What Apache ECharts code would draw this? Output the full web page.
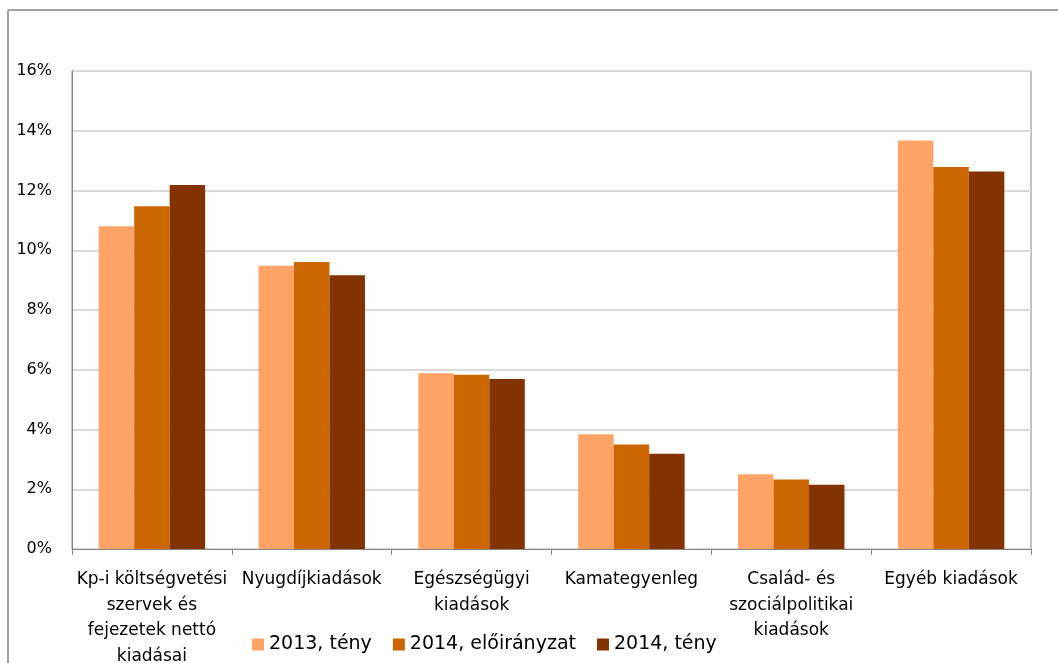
<!DOCTYPE html>
<html>
<head>
<meta charset="utf-8">
<script src="https://cdn.jsdelivr.net/npm/echarts@6/dist/echarts.min.js"></script>
<style>
  html, body { margin: 0; padding: 0; background: #ffffff; }
  #chart { width: 1058px; height: 663px; }
</style>
</head>
<body>
<div id="chart"></div>
<script>
// Kiadási főcsoportok, a GDP százalékában
const categories = [
  'Kp-i költségvetési\nszervek és\nfejezetek nettó\nkiadásai',
  'Nyugdíjkiadások',
  'Egészségügyi\nkiadások',
  'Kamategyenleg',
  'Család- és\nszociálpolitikai\nkiadások',
  'Egyéb kiadások'
];
const seriesNames = ['2013, tény', '2014, előirányzat', '2014, tény'];
const teny2013 = [10.80, 9.48, 5.88, 3.84, 2.50, 13.67];
const eloiranyzat2014 = [11.47, 9.61, 5.83, 3.50, 2.33, 12.79];
const teny2014 = [12.18, 9.16, 5.69, 3.19, 2.15, 12.64];
const yTicks = [0, 2, 4, 6, 8, 10, 12, 14, 16];

const colors = ['#FFA366', '#CC6600', '#823300'];
const fontFamily = 'DejaVu Sans, sans-serif';

const chart = echarts.init(document.getElementById('chart'), null, { renderer: 'canvas' });

const values = [teny2013, eloiranyzat2014, teny2014];

chart.setOption({
  animation: false,
  backgroundColor: '#ffffff',
  color: colors,
  textStyle: { fontFamily: fontFamily },
  graphic: [
    // outer frame (left and top edges)
    { type: 'line', shape: { x1: 8, y1: 10, x2: 8, y2: 663 },
      style: { stroke: '#a0a0a0', lineWidth: 2 } },
    { type: 'line', shape: { x1: 8, y1: 10, x2: 1058, y2: 10 },
      style: { stroke: '#a0a0a0', lineWidth: 2 } }
  ],
  grid: {
    left: 72, top: 71, width: 959, height: 478,
    outerBoundsMode: 'none',
    containLabel: false,
    show: true, borderColor: '#868686', borderWidth: 1,
    backgroundColor: 'transparent'
  },
  legend: {
    data: seriesNames,
    left: 247, top: 630,
    itemWidth: 12, itemHeight: 12, itemGap: 21,
    icon: 'rect',
    textStyle: { fontSize: 19, color: '#000000', fontFamily: fontFamily }
  },
  xAxis: {
    type: 'category',
    data: categories,
    axisLine: { show: true, lineStyle: { color: '#868686', width: 1 } },
    axisTick: { show: true, interval: 0, length: 6, lineStyle: { color: '#868686' } },
    axisLabel: {
      interval: 0, margin: 18, fontSize: 17, lineHeight: 25.5,
      color: '#000000', fontFamily: fontFamily, align: 'center'
    },
    splitLine: { show: false }
  },
  yAxis: {
    type: 'value',
    min: 0, max: 16, interval: 2,
    axisLine: { show: true, lineStyle: { color: '#868686', width: 1 } },
    axisTick: { show: false },
    axisLabel: {
      margin: 20, fontSize: 16, color: '#000000', fontFamily: fontFamily,
      formatter: function (v) { return yTicks.indexOf(v) >= 0 ? v + '%' : ''; }
    },
    splitLine: { show: true, lineStyle: { color: '#d9d9d9', width: 2 } }
  },
  series: seriesNames.map(function (name, i) {
    return {
      name: name,
      type: 'bar',
      data: values[i],
      barGap: '0%',
      barCategoryGap: '33.4%',
      itemStyle: { color: colors[i] }
    };
  })
});
</script>
</body>
</html>
